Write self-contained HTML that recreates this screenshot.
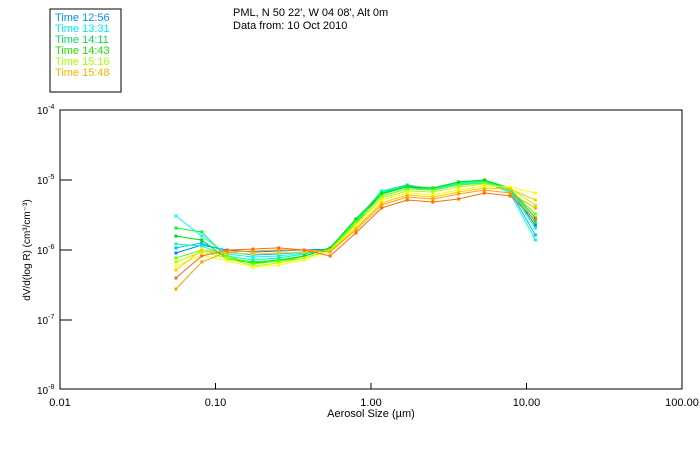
<!DOCTYPE html>
<html><head><meta charset="utf-8"><style>
body{margin:0;background:#fff;}
svg{display:block;font-family:"Liberation Sans",sans-serif;}
</style></head><body>
<svg id="chart" width="700" height="450">
<rect x="50" y="9" width="71" height="83" fill="none" stroke="#000"/>
<g id="legend"></g>
<text x="233" y="16" font-size="11">PML, N 50 22', W 04 08', Alt 0m</text>
<text x="233" y="29" font-size="11">Data from: 10 Oct 2010</text>
<rect x="60" y="110" width="622" height="279" fill="none" stroke="#000"/>
<g id="axes"></g>
<g id="series"></g>
<text transform="translate(30,250) rotate(-90)" font-size="10" text-anchor="middle">dV/d(log R) (cm³/cm⁻³)</text>
<text x="371" y="417" font-size="11" text-anchor="middle">Aerosol Size (µm)</text>
</svg>
<script>
const sizes=[0.0557,0.0815,0.119,0.174,0.255,0.373,0.546,0.80,1.17,1.71,2.50,3.66,5.36,7.84,11.4];
const xTicks=[0.01,0.1,1,10,100];
const xTickLabels=["0.01","0.10","1.00","10.00","100.00"];
const yTickExps=[-4,-5,-6,-7,-8];
const legendLabels=["Time 12:56","Time 13:31","Time 14:11","Time 14:43","Time 15:16","Time 15:48"];
const legendColors=["#0090ff","#00e8ff","#00e060","#20e000","#a8ff00","#ffb000"];
const colors=["#0080ff","#00beff","#00ffff","#00ffb4","#00ff3c","#00e000","#64ff00","#b4ff00","#ffff00","#ffc800","#ffa000","#ff6e00"];
// values in units of 1e-6 cm3/cm3
const s1=[0.906,1.18,1.0,0.936,0.968,1.0,1.03,2.35,6.52,7.94,7.20,8.48,9.06,7.20,2.27];
const s2=[1.07,1.26,0.936,0.848,0.877,0.936,1.03,2.51,6.96,8.48,7.44,8.76,9.36,6.96,1.64];
const s3=[3.06,1.58,0.877,0.794,0.821,0.906,1.03,2.59,6.96,8.21,7.20,8.76,9.36,6.52,1.39];
const s4=[1.22,1.14,0.821,0.720,0.769,0.877,1.03,2.59,6.74,8.21,7.44,9.06,9.67,7.20,2.06];
const s5=[2.06,1.81,0.769,0.674,0.720,0.821,1.07,2.77,6.52,8.21,7.69,9.36,10,7.69,2.51];
const s6=[1.58,1.39,0.744,0.652,0.696,0.821,1.07,2.77,6.31,7.94,7.69,9.36,10,7.44,2.87];
const s7=[0.769,1.0,0.821,0.631,0.696,0.769,1.0,2.51,5.92,7.44,7.20,8.48,9.06,7.44,3.27];
const s8=[0.674,0.936,0.769,0.591,0.652,0.769,1.0,2.35,5.54,6.96,6.74,7.94,8.76,7.69,4.39];
const s9=[0.591,0.848,0.696,0.572,0.611,0.720,0.968,2.20,5.18,6.52,6.11,7.20,8.21,7.94,6.52];
const s10=[0.518,1.0,0.906,0.877,0.906,0.936,0.968,2.06,4.69,6.11,5.72,6.74,7.69,7.44,5.18];
const s11=[0.277,0.674,0.936,0.968,1.0,1.0,0.936,1.93,4.39,5.72,5.36,6.31,7.20,6.52,3.98];
const s12=[0.398,0.821,1.0,1.03,1.07,1.0,0.821,1.75,3.98,5.18,4.85,5.36,6.52,5.92,2.68];
const allSeries=[s1,s2,s3,s4,s5,s6,s7,s8,s9,s10,s11,s12];

const NS="http://www.w3.org/2000/svg";
function xS(v){return 60+(Math.log10(v)+2)*155.5;}
function yS(v6){return 110+70*(-4-(Math.log10(v6)-6));}
function yE(e){return 110+70*(-4-e);}
function mk(tag,attrs,parent){const e=document.createElementNS(NS,tag);for(const k in attrs)e.setAttribute(k,attrs[k]);parent.appendChild(e);return e;}
const axes=document.getElementById('axes');
xTicks.forEach((t,i)=>{
  const x=xS(t);
  if(i>0&&i<xTicks.length-1){const l=mk('line',{x1:x,x2:x,y1:389,y2:383,stroke:'#000'},axes);
  
  }
  const tx=mk('text',{x:x,y:406,'font-size':11,'text-anchor':'middle'},axes);
  tx.textContent=xTickLabels[i];
  
  
});
yTickExps.forEach((e,i)=>{
  const y=yE(e);
  if(i>0&&i<yTickExps.length-1){const l=mk('line',{x1:60,x2:72,y1:y,y2:y,stroke:'#000'},axes);
  
  }
  const tx=mk('text',{x:37,y:y+4,'font-size':10},axes);
  tx.innerHTML='10<tspan dy="-5" font-size="7">'+e+'</tspan>';
  
  
});
const sg=document.getElementById('series');
allSeries.forEach((s,i)=>{
  const g=mk('g',{},sg);
  
  
  const pts=s.map((v,j)=>xS(sizes[j]).toFixed(1)+','+yS(v).toFixed(1)).join(' ');
  const pl=mk('polyline',{points:pts,fill:'none',stroke:colors[i],'stroke-width':1},g);
  
  
  s.forEach((v,j)=>{
    const r=mk('rect',{x:xS(sizes[j])-1.5,y:yS(v)-1.5,width:3,height:3,fill:colors[i]},g);
    
    
  });
});
const lg=document.getElementById('legend');
legendLabels.forEach((t,i)=>{
  const tx=mk('text',{x:55,y:21+i*11,'font-size':11,fill:legendColors[i]},lg);
  tx.textContent=t;
  
  
});
</script>
</body></html>
